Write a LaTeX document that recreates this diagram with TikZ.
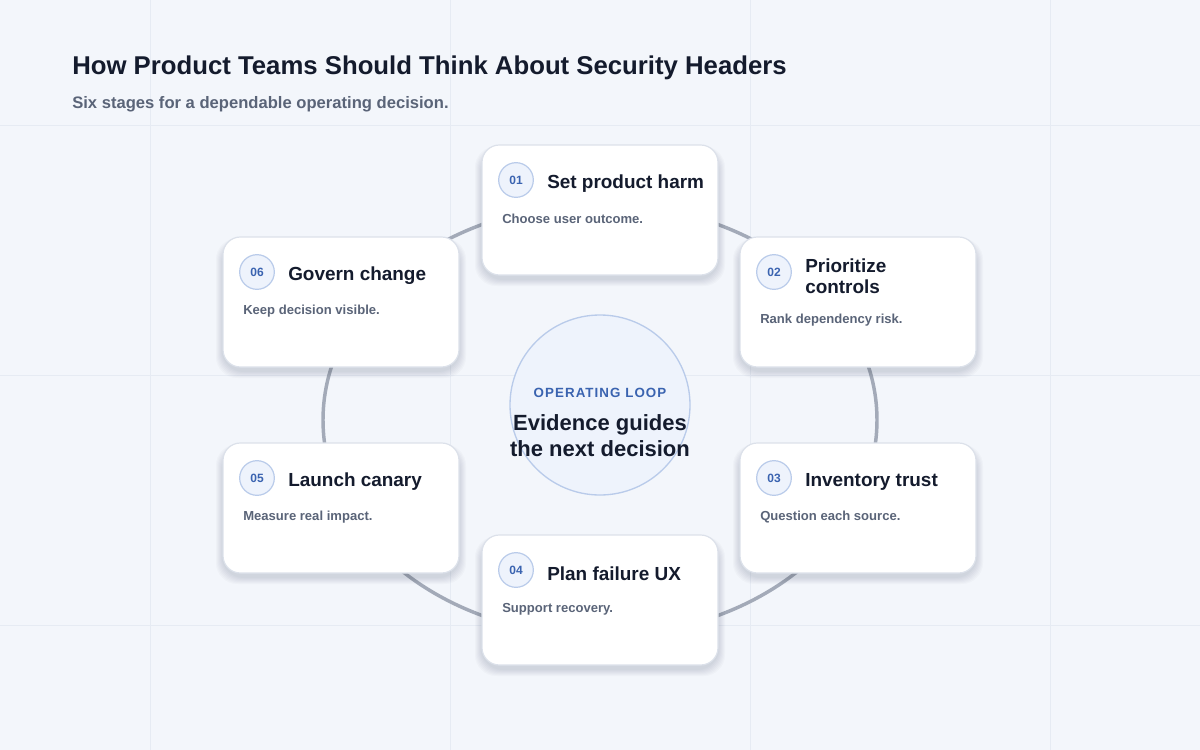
\documentclass[tikz,border=0pt]{standalone}
\usepackage{fontspec}
\setmainfont{Liberation Sans}
\definecolor{bg}{HTML}{F3F6FB}
\definecolor{grid}{HTML}{E6EBF3}
\definecolor{ink}{HTML}{141B2D}
\definecolor{sub}{HTML}{5A6478}
\definecolor{ring}{HTML}{A3AAB8}
\definecolor{cardline}{HTML}{DCE1EA}
\definecolor{badgefill}{HTML}{EEF3FC}
\definecolor{badgeline}{HTML}{B9CBEA}
\definecolor{accent}{HTML}{3A63B0}
\definecolor{shade}{HTML}{2A3550}
\begin{document}
\begin{tikzpicture}[x=0.75pt,y=-0.75pt,
  card/.style={draw=cardline,line width=0.9pt,fill=white,rounded corners=13pt},
  shadowlayer/.style={fill=shade,fill opacity=0.025,rounded corners=16pt},
  badge/.style={circle,draw=badgeline,line width=0.9pt,fill=badgefill,minimum size=26pt,inner sep=0pt,font=\bfseries\fontsize{9}{11}\selectfont,text=accent},
  ttl/.style={anchor=west,font=\bfseries\fontsize{14.2}{16}\selectfont,text=ink,align=left,inner sep=0pt},
  desc/.style={anchor=west,font=\bfseries\fontsize{9.8}{12}\selectfont,text=sub,inner sep=0pt}]
\fill[bg] (0,0) rectangle (1200,750);
\useasboundingbox (0,0) rectangle (1200,750);
\foreach \x in {150,450,750,1050} \draw[grid,line width=0.6pt] (\x,0) -- (\x,750);
\foreach \y in {125,375,625} \draw[grid,line width=0.6pt] (0,\y) -- (1200,\y);
\node[anchor=west,inner sep=0pt,font=\bfseries\fontsize{19.3}{22}\selectfont,text=ink] (title) at (72,68) {How Product Teams Should Think About Security Headers};
\node[anchor=west,inner sep=0pt,font=\bfseries\fontsize{12.45}{14}\selectfont,text=sub] (subtitle) at (72,104) {Six stages for a dependable operating decision.};
\coordinate (c) at (600,420);
\draw[ring,line width=2.6pt] (c) ellipse [x radius=277, y radius=-216];
\node[circle,draw=badgeline,line width=1pt,fill=badgefill,minimum size=135pt,inner sep=0pt] (hub) at (600,405) {};
\node[font=\bfseries\fontsize{10}{12}\selectfont\addfontfeature{LetterSpace=8},text=accent,inner sep=0pt] (hubk) at (600,393) {OPERATING LOOP};
\node[font=\bfseries\fontsize{16.5}{19.5}\selectfont,text=ink,align=center,inner sep=0pt] (hubt) at (600,436) {Evidence guides\\the next decision};
\foreach \n/\x/\y/\t/\d/\dy in {
 01/482/145/Set product harm/Choose user outcome./74,
 02/740/237/{Prioritize\\controls}/Rank dependency risk./83,
 03/740/443/Inventory trust/Question each source./74,
 04/482/535/Plan failure UX/Support recovery./74,
 05/223/443/Launch canary/Measure real impact./74,
 06/223/237/Govern change/Keep decision visible./74}{
 \foreach \s in {2,4,...,14} \path[shadowlayer] (\x-\s/2,\y+6-\s/3) rectangle (\x+236+\s/2,\y+130+4+\s/2);
 \path[card] (\x,\y) rectangle ++(236,130);
 \node[badge] (b\n) at (\x+34,\y+35) {\n};
 \node[ttl] (t\n) at (\x+65,\y+39) {\t};
 \node[desc] (d\n) at (\x+20,\y+\dy) {\d};
}
\end{tikzpicture}
\end{document}
